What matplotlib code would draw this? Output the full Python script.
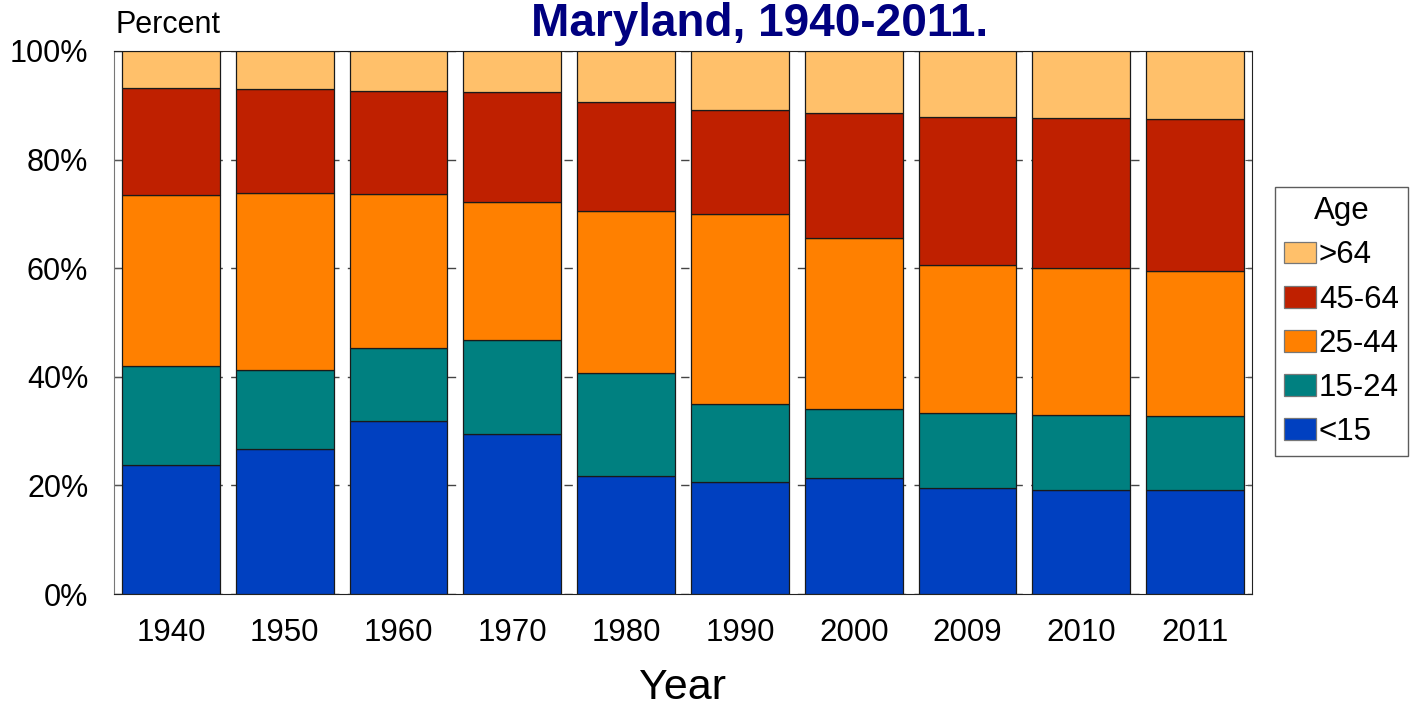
import matplotlib.pyplot as plt
import numpy as np

plt.rcParams['font.family'] = ['Liberation Sans', 'DejaVu Sans']

years = ['1940', '1950', '1960', '1970', '1980', '1990', '2000', '2009', '2010', '2011']
age_groups = ['<15', '15-24', '25-44', '45-64', '>64']
# share of population (percent) per age group
under_15 = [23.8, 26.7, 31.9, 29.5, 21.7, 20.6, 21.4, 19.5, 19.2, 19.2]
age_15_24 = [18.2, 14.6, 13.4, 17.3, 19.0, 14.4, 12.7, 13.8, 13.8, 13.6]
age_25_44 = [31.5, 32.5, 28.4, 25.4, 29.8, 35.0, 31.5, 27.3, 27.0, 26.7]
age_45_64 = [19.7, 19.2, 18.9, 20.2, 20.1, 19.1, 23.0, 27.2, 27.7, 28.0]
over_64 = [6.8, 7.0, 7.4, 7.6, 9.4, 10.9, 11.4, 12.2, 12.3, 12.5]

series = [under_15, age_15_24, age_25_44, age_45_64, over_64]
colors = ['#0040C0', '#008080', '#FF8000', '#BF2000', '#FFC06A']

fig = plt.figure(figsize=(14.18, 7.11), dpi=100)
ax = fig.add_axes([114 / 1418, 1 - 594 / 711, (1252 - 114) / 1418, (594 - 51) / 711])

x = np.arange(len(years))
bottom = np.zeros(len(years))
handles = []
for vals, col, name in zip(series, colors, age_groups):
    vals = np.array(vals)
    b = ax.bar(x, vals, bottom=bottom, width=0.86, color=col, edgecolor='#1a1a1a',
               linewidth=0.9, label=name, zorder=3)
    handles.append(b)
    bottom += vals

ax.set_xlim(-0.5, len(years) - 0.5)
ax.set_ylim(0, 100)
ax.set_yticks([0, 20, 40, 60, 80, 100])
ax.set_yticklabels(['0%', '20%', '40%', '60%', '80%', '100%'], fontsize=22)
ax.set_xticks(x)
ax.set_xticklabels(years, fontsize=22.5)
ax.tick_params(axis='x', length=0, pad=17)
ax.tick_params(axis='y', direction='in', length=5, color='#555555', right=True, pad=18.5)
ax.yaxis.grid(True, linestyle=(0, (6, 6)), color='#444444', linewidth=1, zorder=0)
ax.set_axisbelow(True)
for side in ['top', 'right', 'bottom']:
    ax.spines[side].set_color('#222222')
ax.spines['left'].set_color('#777777')

fig.text(683 / 1418, 1 - 688 / 711, 'Year', fontsize=31, ha='center', va='center')

fig.text(115 / 1418, 1 - 25 / 711, 'Percent', fontsize=22, va='center', ha='left')
fig.text(760 / 1418, 1 - 36 / 711, 'Maryland, 1940-2011.', fontsize=33, fontweight='bold',
         color='#000080', ha='center', va='baseline')

leg = fig.legend(handles[::-1], age_groups[::-1], title='Age', loc='upper left',
                 bbox_to_anchor=(1275 / 1418, 1 - 187 / 711), fontsize=22.5, title_fontsize=22.5,
                 frameon=True, fancybox=False, edgecolor='#333333', handlelength=1.0,
                 handleheight=0.7, handletextpad=0.1, labelspacing=0.45, borderpad=0.3,
                 borderaxespad=0)
leg.get_frame().set_linewidth(1)
for p in leg.get_patches():
    p.set_edgecolor('#777777')

fig.savefig('out.png', dpi=100)
